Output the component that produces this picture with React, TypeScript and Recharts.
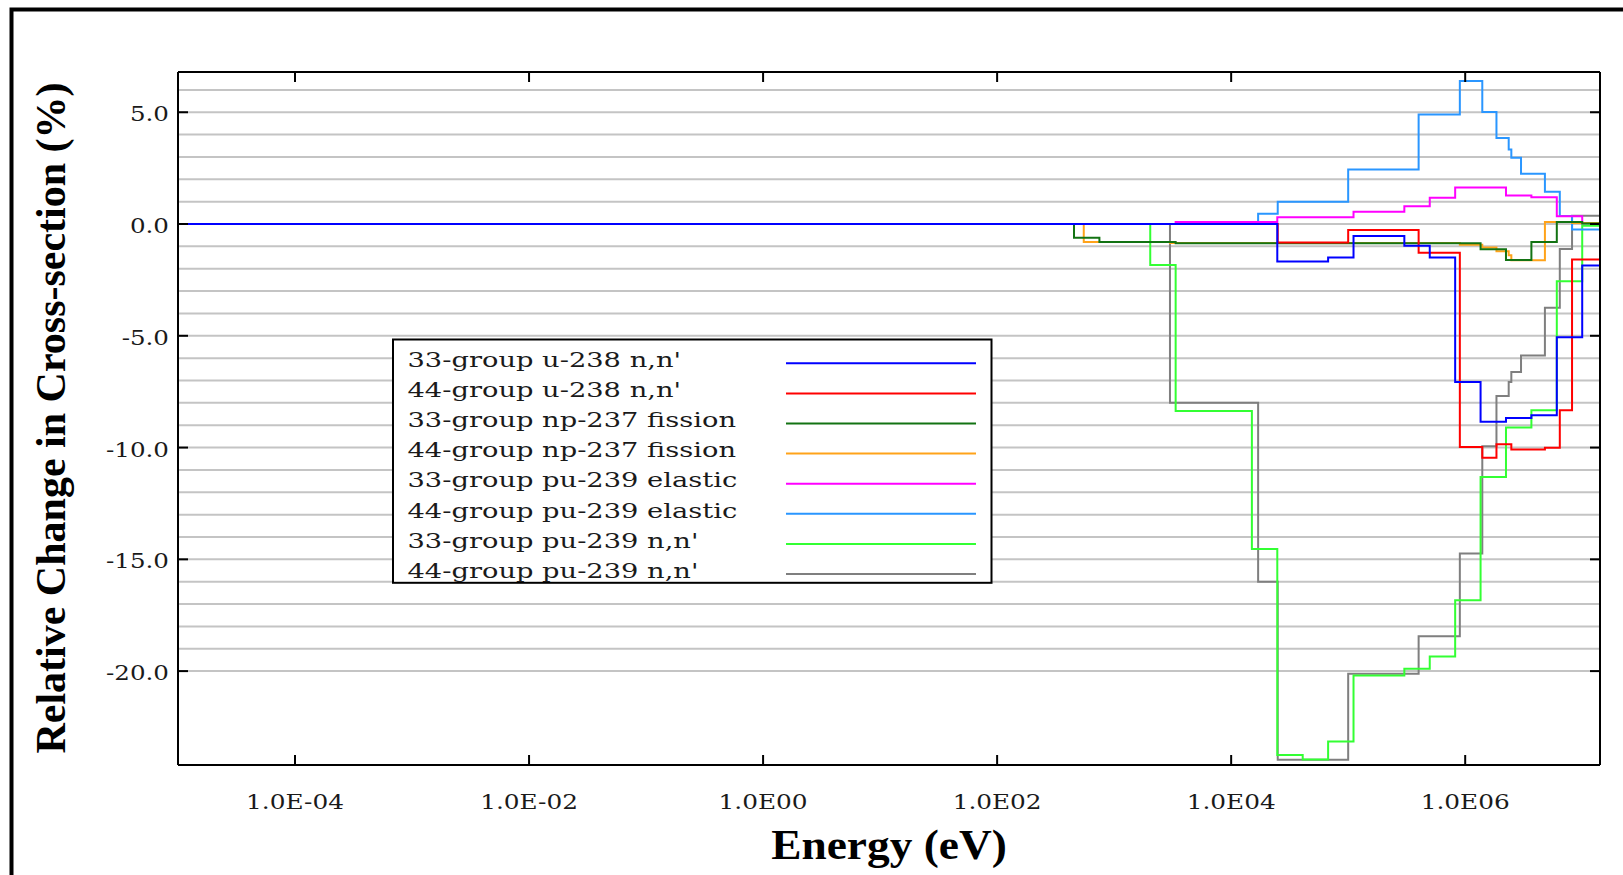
import { LineChart, Line, XAxis, YAxis, CartesianGrid } from "recharts"

const E_MIN = 1e-5
const E_MAX = 1.4191e7

// axis ticks / labels
const xTicks = [1e-4, 1e-2, 1, 1e2, 1e4, 1e6]
const xTickLabels = ["1.0E-04", "1.0E-02", "1.0E00", "1.0E02", "1.0E04", "1.0E06"]
const yTicks = [-20, -15, -10, -5, 0, 5]
const yGrid = [-20, -19, -18, -17, -16, -15, -14, -13, -12, -11, -10, -9, -8, -7, -6, -5, -4, -3, -2, -1, 0, 1, 2, 3, 4, 5, 6]

// 33-group u-238 n,n'
const u238Nn33E = [E_MIN, 24788, 67379, 111090, 301970, 497870, 820850, 1353400, 2231300, 3678800, 6065300, 1e7, E_MAX]
const u238Nn33V = [0, -1.68, -1.5, -0.54, -0.97, -1.5, -7.07, -8.85, -8.68, -8.56, -5.06, -1.86, -1.86]

// 44-group u-238 n,n'
const u238Nn44E = [E_MIN, 25000, 1e5, 4e5, 9e5, 1.4e6, 1.85e6, 2.479e6, 4.8e6, 6.434e6, 8.187e6, E_MAX]
const u238Nn44V = [0, -0.83, -0.27, -1.29, -9.97, -10.46, -9.85, -10.09, -10.01, -8.33, -1.59, -1.59]

// 33-group np-237 fission
const np237Fis33E = [E_MIN, 454, 748.5, 3354.6, 1353400, 2231300, 3678800, 6065300, 1e7, E_MAX]
const np237Fis33V = [0, -0.61, -0.8, -0.86, -1.13, -1.61, -0.8, 0.09, 0.02, 0.02]

// 44-group np-237 fission
const np237Fis44E = [E_MIN, 550, 3000, 9e5, 1.4e6, 1.85e6, 2.354e6, 2.479e6, 4.8e6, 8.187e6, E_MAX]
const np237Fis44V = [0, -0.8, -0.85, -0.93, -1.05, -1.22, -1.4, -1.62, 0.09, 0.05, 0.05]

// 33-group pu-239 elastic
const pu239El33E = [E_MIN, 3354.6, 24788, 111090, 301970, 497870, 820850, 2231300, 3678800, 6065300, 1e7, E_MAX]
const pu239El33V = [0, 0.09, 0.3, 0.55, 0.8, 1.17, 1.63, 1.28, 1.2, 0.35, 0.05, 0.05]

// 44-group pu-239 elastic
const pu239El44E = [E_MIN, 17000, 25000, 1e5, 4e5, 9e5, 1.4e6, 1.85e6, 2.354e6, 2.479e6, 3e6, 4.8e6, 6.434e6, 8.187e6, E_MAX]
const pu239El44V = [0, 0.46, 1.0, 2.44, 4.9, 6.4, 5.01, 3.85, 3.33, 2.96, 2.25, 1.44, 0.36, -0.25, -0.25]

// 33-group pu-239 n,n'
const pu239Nn33E = [E_MIN, 2034.7, 3354.6, 15034, 24788, 40868, 67379, 111090, 301970, 497870, 820850, 1353400, 2231300, 3678800, 6065300, 1e7, E_MAX]
const pu239Nn33V = [0, -1.83, -8.37, -14.54, -23.75, -23.95, -23.15, -20.2, -19.9, -19.35, -16.83, -11.32, -9.1, -8.33, -2.56, -0.08, -0.08]

// 44-group pu-239 n,n'
const pu239Nn44E = [E_MIN, 3000, 17000, 25000, 1e5, 4e5, 9e5, 1.4e6, 1.85e6, 2.354e6, 2.479e6, 3e6, 4.8e6, 6.434e6, 8.187e6, E_MAX]
const pu239Nn44V = [0, -8.0, -16.0, -23.97, -20.12, -18.44, -14.74, -9.94, -7.69, -7.07, -6.62, -5.88, -3.75, -1.12, 0.37, 0.37]

const series = [
  { name: "33-group u-238 n,n'", color: "#0000ff", energy: u238Nn33E, value: u238Nn33V },
  { name: "44-group u-238 n,n'", color: "#ff0000", energy: u238Nn44E, value: u238Nn44V },
  { name: "33-group np-237 fission", color: "#137313", energy: np237Fis33E, value: np237Fis33V },
  { name: "44-group np-237 fission", color: "#ffa31a", energy: np237Fis44E, value: np237Fis44V },
  { name: "33-group pu-239 elastic", color: "#ff00ff", energy: pu239El33E, value: pu239El33V },
  { name: "44-group pu-239 elastic", color: "#2a96ff", energy: pu239El44E, value: pu239El44V },
  { name: "33-group pu-239 n,n'", color: "#33ff33", energy: pu239Nn33E, value: pu239Nn33V },
  { name: "44-group pu-239 n,n'", color: "#7f7f7f", energy: pu239Nn44E, value: pu239Nn44V },
]

const toSteps = (energy: number[], value: number[]) => energy.map((e, i) => ({ e, v: value[i] }))

const TICK_FONT = "'DejaVu Serif', serif"
const TITLE_FONT = "'Liberation Serif', 'Times New Roman', serif"

// ticks point into the plot, like the original
const BottomTick = ({ x, y, payload }: any) => {
  const label = xTickLabels[xTicks.indexOf(payload.value)] ?? ""
  return (
    <g>
      <line x1={x} x2={x} y1={y} y2={y - 10} stroke="#000" strokeWidth={2} />
      <text transform={`translate(${x} ${y + 44}) scale(1.18 1)`} textAnchor="middle" fontFamily={TICK_FONT} fontSize={21} fill="#1a1a1a">
        {label}
      </text>
    </g>
  )
}

const TopTick = ({ x, y }: any) => <line x1={x} x2={x} y1={y} y2={y + 10} stroke="#000" strokeWidth={2} />

const LeftTick = ({ x, y, payload }: any) => (
  <g>
    <line x1={x} x2={x + 10} y1={y} y2={y} stroke="#000" strokeWidth={2} />
    <text transform={`translate(${x - 9} ${y + 9}) scale(1.17 1)`} textAnchor="end" fontFamily={TICK_FONT} fontSize={21} fill="#1a1a1a">
      {payload.value.toFixed(1)}
    </text>
  </g>
)

const RightTick = ({ x, y }: any) => <line x1={x - 10} x2={x} y1={y} y2={y} stroke="#000" strokeWidth={2} />

export default function App() {
  const axisLine = { stroke: "#000", strokeWidth: 2 }

  return (
    <div style={{ position: "absolute", left: 0, top: 0, width: 1623, height: 875, background: "#fff", overflow: "hidden" }}>
      <LineChart width={1623} height={875} margin={{ top: 71, right: 22, bottom: 109, left: 177 }}>
        <CartesianGrid xAxisId="bottom" yAxisId="left" vertical={false} horizontalValues={yGrid} stroke="#c4c4c4" strokeWidth={2} />
        <XAxis
          xAxisId="bottom"
          type="number"
          dataKey="e"
          scale="log"
          domain={[E_MIN, E_MAX]}
          allowDataOverflow
          ticks={xTicks}
          interval={0}
          height={1}
          tickSize={0}
          tickMargin={0}
          tickLine={false}
          axisLine={axisLine}
          tick={BottomTick}
        />
        <XAxis
          xAxisId="top"
          orientation="top"
          type="number"
          dataKey="e"
          scale="log"
          domain={[E_MIN, E_MAX]}
          allowDataOverflow
          ticks={xTicks}
          interval={0}
          height={1}
          tickSize={0}
          tickMargin={0}
          tickLine={false}
          axisLine={axisLine}
          tick={TopTick}
        />
        <YAxis
          yAxisId="left"
          type="number"
          domain={[-24.2, 6.8]}
          allowDataOverflow
          ticks={yTicks}
          interval={0}
          width={1}
          tickSize={0}
          tickMargin={0}
          tickLine={false}
          axisLine={axisLine}
          tick={LeftTick}
        />
        <YAxis
          yAxisId="right"
          orientation="right"
          type="number"
          domain={[-24.2, 6.8]}
          allowDataOverflow
          ticks={yTicks}
          interval={0}
          width={1}
          tickSize={0}
          tickMargin={0}
          tickLine={false}
          axisLine={axisLine}
          tick={RightTick}
        />
        {/* first legend entry ends up on top */}
        {[...series].reverse().map((s) => (
          <Line
            key={s.name}
            xAxisId="bottom"
            yAxisId="left"
            data={toSteps(s.energy, s.value)}
            dataKey="v"
            type="stepAfter"
            stroke={s.color}
            strokeWidth={2}
            dot={false}
            activeDot={false}
            isAnimationActive={false}
          />
        ))}
      </LineChart>

      <svg width={1623} height={875} style={{ position: "absolute", left: 0, top: 0, pointerEvents: "none" }}>
        <path d="M11.5 875 V9.5 H1623" stroke="#000" strokeWidth={4} fill="none" />
        <text transform="translate(65 418) rotate(-90)" textAnchor="middle" fontFamily={TITLE_FONT} fontWeight="bold" fontSize={42} fill="#000">
          Relative Change in Cross-section (%)
        </text>
        <text transform="translate(889 859) scale(1.08 1)" textAnchor="middle" fontFamily={TITLE_FONT} fontWeight="bold" fontSize={42} fill="#000">
          Energy (eV)
        </text>

        <rect x={393} y={339.5} width={598.5} height={243.3} fill="#fff" stroke="#000" strokeWidth={2} />
        {series.map((s, i) => (
          <g key={s.name}>
            <text transform={`translate(407.5 ${367 + 30.1 * i}) scale(1.3 1)`} fontFamily={TICK_FONT} fontSize={21} fill="#1a1a1a">
              {s.name}
            </text>
            <line x1={786} x2={976} y1={363.3 + 30.1 * i} y2={363.3 + 30.1 * i} stroke={s.color} strokeWidth={2} />
          </g>
        ))}
      </svg>
    </div>
  )
}
